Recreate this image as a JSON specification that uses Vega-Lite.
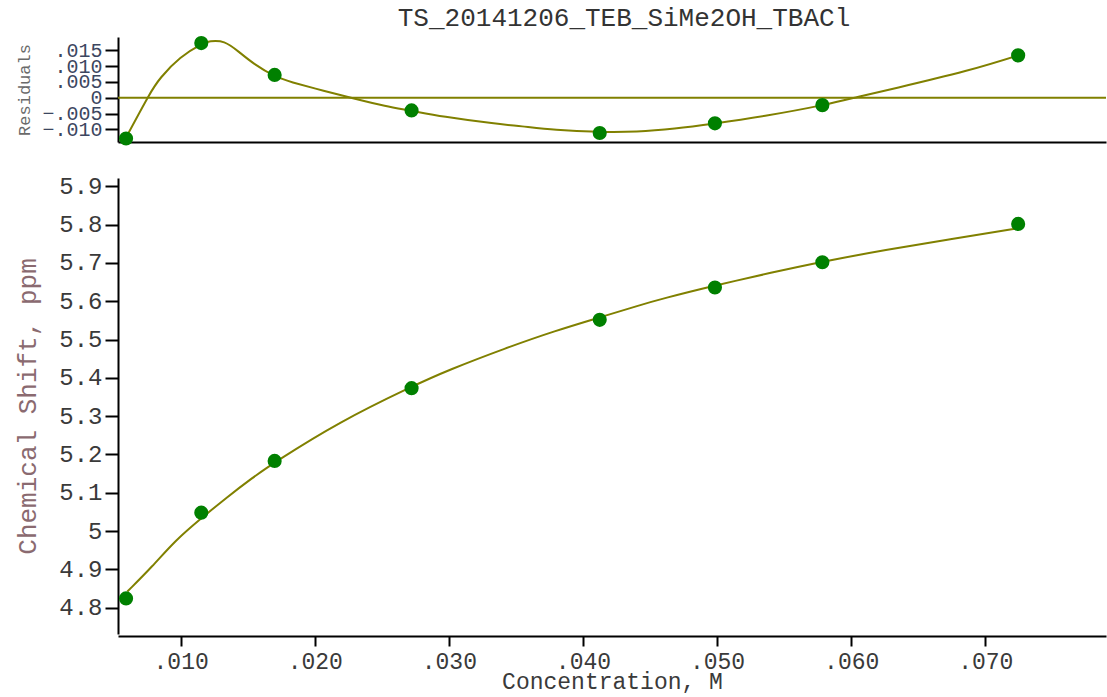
{
  "$schema": "https://vega.github.io/schema/vega-lite/v6.json",
  "background": "white",
  "padding": {"left": 14, "top": 5, "right": 0, "bottom": 0},
  "config": {
    "view": {"stroke": null},
    "font": "Liberation Mono",
    "axis": {"grid": false, "domainColor": "black", "domainWidth": 2, "tickColor": "black", "tickWidth": 2, "labelFont": "Liberation Mono", "titleFont": "Liberation Mono", "titleFontWeight": "normal", "labelColor": "#3a3a3a", "titleColor": "#3a3a3a", "labelOverlap": false, "labelBound": false}
  },
  "datasets": {
    "obs": [
      {"conc": 0.00593, "shift": 4.824, "resid": -0.01288},
      {"conc": 0.01154, "shift": 5.048, "resid": 0.01728},
      {"conc": 0.01701, "shift": 5.183, "resid": 0.00722},
      {"conc": 0.02722, "shift": 5.373, "resid": -0.00402},
      {"conc": 0.04125, "shift": 5.5515, "resid": -0.01114},
      {"conc": 0.04984, "shift": 5.636, "resid": -0.0081},
      {"conc": 0.05785, "shift": 5.702, "resid": -0.00234},
      {"conc": 0.07245, "shift": 5.802, "resid": 0.01339}
    ],
    "fit": [
      {"conc": 0.006028, "shift": 4.8418},
      {"conc": 0.007891, "shift": 4.9071},
      {"conc": 0.009635, "shift": 4.9766},
      {"conc": 0.011542, "shift": 5.0333},
      {"conc": 0.013361, "shift": 5.0856},
      {"conc": 0.015343, "shift": 5.1389},
      {"conc": 0.017012, "shift": 5.1797},
      {"conc": 0.021803, "shift": 5.2846},
      {"conc": 0.027221, "shift": 5.3775},
      {"conc": 0.03, "shift": 5.4209},
      {"conc": 0.034225, "shift": 5.4776},
      {"conc": 0.037951, "shift": 5.5232},
      {"conc": 0.041252, "shift": 5.5578},
      {"conc": 0.044158, "shift": 5.5891},
      {"conc": 0.045894, "shift": 5.6067},
      {"conc": 0.049843, "shift": 5.6414},
      {"conc": 0.054091, "shift": 5.6752},
      {"conc": 0.057846, "shift": 5.7035},
      {"conc": 0.062541, "shift": 5.7342},
      {"conc": 0.067504, "shift": 5.763},
      {"conc": 0.072452, "shift": 5.7911}
    ],
    "rcurve": [
      {"conc": 0.005931, "resid": -0.01256},
      {"conc": 0.007556, "resid": 0.0001},
      {"conc": 0.008554, "resid": 0.00647},
      {"conc": 0.009978, "resid": 0.01255},
      {"conc": 0.011542, "resid": 0.01688},
      {"conc": 0.01225, "resid": 0.01784},
      {"conc": 0.013249, "resid": 0.0175},
      {"conc": 0.014389, "resid": 0.01434},
      {"conc": 0.015529, "resid": 0.01063},
      {"conc": 0.016982, "resid": 0.00696},
      {"conc": 0.018376, "resid": 0.00484},
      {"conc": 0.020656, "resid": 0.00222},
      {"conc": 0.022921, "resid": -0.00022},
      {"conc": 0.025209, "resid": -0.00253},
      {"conc": 0.027198, "resid": -0.00411},
      {"conc": 0.029762, "resid": -0.00603},
      {"conc": 0.033182, "resid": -0.00802},
      {"conc": 0.035462, "resid": -0.00906},
      {"conc": 0.038025, "resid": -0.01013},
      {"conc": 0.041155, "resid": -0.01076},
      {"conc": 0.044009, "resid": -0.01066},
      {"conc": 0.046841, "resid": -0.00972},
      {"conc": 0.049821, "resid": -0.00813},
      {"conc": 0.053599, "resid": -0.0057},
      {"conc": 0.057846, "resid": -0.00234},
      {"conc": 0.060551, "resid": 0.00032},
      {"conc": 0.063532, "resid": 0.00326},
      {"conc": 0.068502, "resid": 0.00843},
      {"conc": 0.072452, "resid": 0.01339}
    ],
    "zero": [{"resid": 0}]
  },
  "vconcat": [
    {
      "width": 988,
      "height": 105,
      "title": {"text": "TS_20141206_TEB_SiMe2OH_TBACl", "font": "Liberation Mono", "fontSize": 26, "fontWeight": "normal", "color": "#333333", "anchor": "middle", "offset": 5, "dx": 12},
      "layer": [
        {
          "data": {"name": "zero"},
          "mark": {"type": "rule", "color": "#808000", "strokeWidth": 2},
          "encoding": {
            "y": {"field": "resid", "type": "quantitative", "scale": {"domain": [-0.014, 0.0192], "nice": false, "zero": false},
              "axis": {"title": "Residuals", "titleFontSize": 17, "titlePadding": 8, "values": [-0.01, -0.005, 0, 0.005, 0.01, 0.015], "labelOverlap": false, "labelFontSize": 20, "labelColor": "#3c4660", "titleColor": "#6a6a6a", "tickSize": 13, "labelPadding": 3, "labelExpr": "datum.value == 0 ? '0' : replace(format(datum.value, '.3f'), '0.', '.')"}}
          }
        },
        {
          "data": {"name": "rcurve"},
          "mark": {"type": "line", "color": "#808000", "strokeWidth": 2, "interpolate": "natural", "clip": true},
          "encoding": {
            "x": {"field": "conc", "type": "quantitative", "scale": {"domain": [0.00533, 0.079], "nice": false, "zero": false},
              "axis": {"title": null, "labels": false, "ticks": false, "domain": true}},
            "y": {"field": "resid", "type": "quantitative", "scale": {"domain": [-0.014, 0.0192], "nice": false, "zero": false},
              "axis": {"title": "Residuals", "titleFontSize": 17, "titlePadding": 8, "values": [-0.01, -0.005, 0, 0.005, 0.01, 0.015], "labelOverlap": false, "labelFontSize": 20, "labelColor": "#3c4660", "titleColor": "#6a6a6a", "tickSize": 13, "labelPadding": 3, "labelExpr": "datum.value == 0 ? '0' : replace(format(datum.value, '.3f'), '0.', '.')"}}
          }
        },
        {
          "data": {"name": "obs"},
          "mark": {"type": "circle", "color": "#008000", "opacity": 1, "size": 200},
          "encoding": {
            "x": {"field": "conc", "type": "quantitative", "scale": {"domain": [0.00533, 0.079], "nice": false, "zero": false},
              "axis": {"title": null, "labels": false, "ticks": false, "domain": true}},
            "y": {"field": "resid", "type": "quantitative", "scale": {"domain": [-0.014, 0.0192], "nice": false, "zero": false},
              "axis": {"title": "Residuals", "titleFontSize": 17, "titlePadding": 8, "values": [-0.01, -0.005, 0, 0.005, 0.01, 0.015], "labelOverlap": false, "labelFontSize": 20, "labelColor": "#3c4660", "titleColor": "#6a6a6a", "tickSize": 13, "labelPadding": 3, "labelExpr": "datum.value == 0 ? '0' : replace(format(datum.value, '.3f'), '0.', '.')"}}
          }
        }
      ]
    },
    {
      "width": 988,
      "height": 456,
      "layer": [
        {
          "data": {"name": "fit"},
          "mark": {"type": "line", "color": "#808000", "strokeWidth": 2, "interpolate": "basis"},
          "encoding": {
            "x": {"field": "conc", "type": "quantitative", "scale": {"domain": [0.00533, 0.079], "nice": false, "zero": false},
              "axis": {"title": "Concentration, M", "titleFontSize": 23, "titlePadding": -3, "values": [0.01, 0.02, 0.03, 0.04, 0.05, 0.06, 0.07], "labelFontSize": 23, "tickSize": 10, "offset": 2, "labelPadding": 4, "labelExpr": "replace(format(datum.value, '.3f'), '0.', '.')"}},
            "y": {"field": "shift", "type": "quantitative", "scale": {"domain": [4.731, 5.922], "nice": false, "zero": false},
              "axis": {"title": "Chemical Shift, ppm", "titleFontSize": 26, "titlePadding": 18, "titleColor": "#8a6a70", "values": [4.8, 4.9, 5, 5.1, 5.2, 5.3, 5.4, 5.5, 5.6, 5.7, 5.8, 5.9], "labelFontSize": 24, "tickSize": 13, "labelPadding": 3, "format": ".1~f"}}
          }
        },
        {
          "data": {"name": "obs"},
          "mark": {"type": "circle", "color": "#008000", "opacity": 1, "size": 200},
          "encoding": {
            "x": {"field": "conc", "type": "quantitative", "scale": {"domain": [0.00533, 0.079], "nice": false, "zero": false},
              "axis": {"title": "Concentration, M", "titleFontSize": 23, "titlePadding": -3, "values": [0.01, 0.02, 0.03, 0.04, 0.05, 0.06, 0.07], "labelFontSize": 23, "tickSize": 10, "offset": 2, "labelPadding": 4, "labelExpr": "replace(format(datum.value, '.3f'), '0.', '.')"}},
            "y": {"field": "shift", "type": "quantitative", "scale": {"domain": [4.731, 5.922], "nice": false, "zero": false},
              "axis": {"title": "Chemical Shift, ppm", "titleFontSize": 26, "titlePadding": 18, "titleColor": "#8a6a70", "values": [4.8, 4.9, 5, 5.1, 5.2, 5.3, 5.4, 5.5, 5.6, 5.7, 5.8, 5.9], "labelFontSize": 24, "tickSize": 13, "labelPadding": 3, "format": ".1~f"}}
          }
        }
      ]
    }
  ],
  "spacing": 28
}
